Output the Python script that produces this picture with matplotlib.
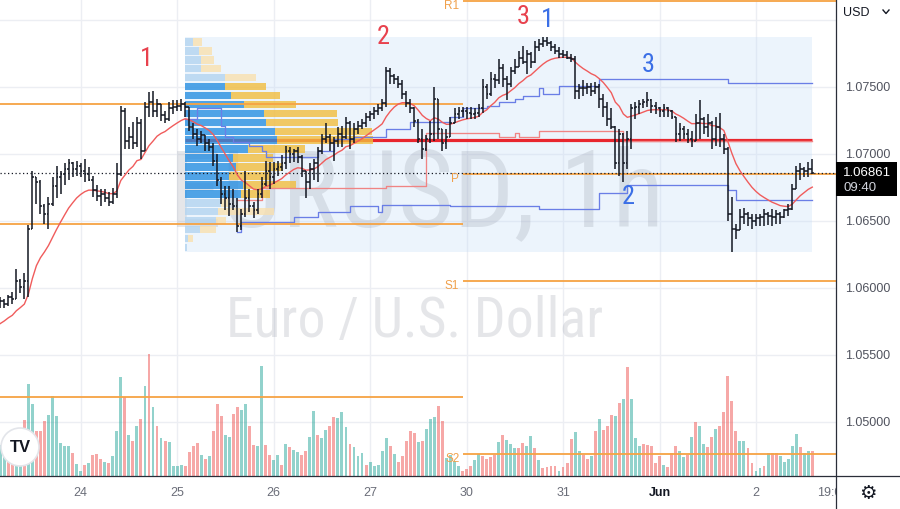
import numpy as np
import matplotlib
matplotlib.use("Agg")
import matplotlib.pyplot as plt
from matplotlib import font_manager as fm, transforms
from matplotlib.patches import Rectangle, Circle
from matplotlib.lines import Line2D

# ---------------- data ----------------
day_labels = ["24", "25", "26", "27", "30", "31", "Jun", "2", "19:00"]
day_label_bars = [20, 44, 68, 92, 116, 140, 164, 188, 207]
price_ticks = [1.050, 1.055, 1.060, 1.065, 1.070, 1.075]
last_price = 1.06861
countdown = "09:40"

open_first = 1.0591
high = [1.0593, 1.0592, 1.0595, 1.0597, 1.0614, 1.0607, 1.0611, 1.0647, 1.0687, 1.0683,
        1.0681, 1.0663, 1.0668, 1.0683, 1.0691, 1.0687, 1.0693, 1.0696, 1.0694, 1.0695,
        1.0693, 1.0696, 1.0690, 1.0684, 1.0677, 1.0674, 1.0674, 1.0672, 1.0675, 1.0693,
        1.0736, 1.0734, 1.0720, 1.0724, 1.0728, 1.0726, 1.0739, 1.0746, 1.0747, 1.0741,
        1.0737, 1.0732, 1.0739, 1.0740, 1.0740, 1.0741, 1.0739, 1.0735, 1.0723, 1.0719,
        1.0717, 1.0714, 1.0711, 1.0708, 1.0700, 1.0683, 1.0676, 1.0676, 1.0674, 1.0667,
        1.0659, 1.0687, 1.0674, 1.0664, 1.0674, 1.0683, 1.0695, 1.0694, 1.0694, 1.0695,
        1.0699, 1.0706, 1.0705, 1.0704, 1.0705, 1.0699, 1.0687, 1.0693, 1.0696, 1.0705,
        1.0715, 1.0723, 1.0715, 1.0713, 1.0720, 1.0721, 1.0728, 1.0725, 1.0723, 1.0725,
        1.0726, 1.0731, 1.0732, 1.0735, 1.0737, 1.0741, 1.0765, 1.0764, 1.0760, 1.0758,
        1.0755, 1.0747, 1.0741, 1.0735, 1.0726, 1.0719, 1.0714, 1.0725, 1.0750, 1.0741,
        1.0719, 1.0719, 1.0728, 1.0734, 1.0735, 1.0735, 1.0735, 1.0735, 1.0734, 1.0737,
        1.0756, 1.0752, 1.0761, 1.0760, 1.0771, 1.0767, 1.0758, 1.0765, 1.0771, 1.0777,
        1.0781, 1.0778, 1.0776, 1.0784, 1.0786, 1.0787, 1.0787, 1.0784, 1.0782, 1.0780,
        1.0778, 1.0777, 1.0775, 1.0773, 1.0752, 1.0755, 1.0753, 1.0753, 1.0754, 1.0752,
        1.0745, 1.0739, 1.0734, 1.0721, 1.0719, 1.0716, 1.0717, 1.0737, 1.0739, 1.0740,
        1.0741, 1.0746, 1.0741, 1.0739, 1.0735, 1.0737, 1.0735, 1.0733, 1.0728, 1.0723,
        1.0721, 1.0719, 1.0717, 1.0730, 1.0740, 1.0728, 1.0730, 1.0725, 1.0728, 1.0731,
        1.0715, 1.0705, 1.0668, 1.0648, 1.0659, 1.0660, 1.0657, 1.0655, 1.0655, 1.0655,
        1.0659, 1.0657, 1.0659, 1.0658, 1.0657, 1.0659, 1.0663, 1.0678, 1.0691, 1.0693,
        1.0690, 1.0694, 1.0696]
low = [1.0585, 1.0585, 1.0587, 1.0588, 1.0592, 1.0596, 1.0592, 1.0593, 1.0644, 1.0663,
       1.0655, 1.0648, 1.0644, 1.0661, 1.0667, 1.0670, 1.0677, 1.0681, 1.0683, 1.0684,
       1.0683, 1.0679, 1.0680, 1.0668, 1.0665, 1.0661, 1.0664, 1.0661, 1.0663, 1.0667,
       1.0684, 1.0704, 1.0704, 1.0704, 1.0705, 1.0696, 1.0702, 1.0728, 1.0728, 1.0728,
       1.0725, 1.0723, 1.0725, 1.0730, 1.0732, 1.0732, 1.0728, 1.0717, 1.0711, 1.0706,
       1.0708, 1.0702, 1.0702, 1.0691, 1.0676, 1.0663, 1.0658, 1.0654, 1.0658, 1.0642,
       1.0643, 1.0653, 1.0657, 1.0652, 1.0655, 1.0667, 1.0676, 1.0674, 1.0678, 1.0684,
       1.0687, 1.0689, 1.0693, 1.0694, 1.0693, 1.0683, 1.0667, 1.0674, 1.0681, 1.0679,
       1.0700, 1.0708, 1.0702, 1.0695, 1.0705, 1.0705, 1.0711, 1.0704, 1.0708, 1.0715,
       1.0719, 1.0720, 1.0725, 1.0726, 1.0729, 1.0732, 1.0735, 1.0752, 1.0752, 1.0749,
       1.0741, 1.0735, 1.0731, 1.0720, 1.0708, 1.0696, 1.0702, 1.0708, 1.0710, 1.0711,
       1.0702, 1.0704, 1.0713, 1.0723, 1.0726, 1.0728, 1.0726, 1.0726, 1.0726, 1.0728,
       1.0731, 1.0741, 1.0743, 1.0749, 1.0752, 1.0750, 1.0740, 1.0750, 1.0760, 1.0765,
       1.0767, 1.0760, 1.0764, 1.0768, 1.0777, 1.0780, 1.0781, 1.0777, 1.0775, 1.0772,
       1.0772, 1.0771, 1.0769, 1.0741, 1.0741, 1.0743, 1.0745, 1.0743, 1.0745, 1.0734,
       1.0728, 1.0721, 1.0719, 1.0689, 1.0684, 1.0679, 1.0689, 1.0704, 1.0726, 1.0730,
       1.0734, 1.0735, 1.0731, 1.0730, 1.0728, 1.0728, 1.0728, 1.0726, 1.0709, 1.0710,
       1.0711, 1.0708, 1.0705, 1.0710, 1.0711, 1.0715, 1.0713, 1.0704, 1.0706, 1.0705,
       1.0700, 1.0650, 1.0627, 1.0637, 1.0643, 1.0648, 1.0646, 1.0644, 1.0646, 1.0646,
       1.0646, 1.0647, 1.0646, 1.0648, 1.0648, 1.0652, 1.0654, 1.0658, 1.0674, 1.0681,
       1.0683, 1.0683, 1.0685]
close = [1.0590, 1.0588, 1.0593, 1.0592, 1.0605, 1.0601, 1.0605, 1.0644, 1.0683, 1.0679,
         1.0661, 1.0655, 1.0663, 1.0676, 1.0683, 1.0685, 1.0689, 1.0693, 1.0689, 1.0691,
         1.0687, 1.0685, 1.0681, 1.0673, 1.0669, 1.0670, 1.0667, 1.0664, 1.0670, 1.0685,
         1.0732, 1.0710, 1.0713, 1.0708, 1.0723, 1.0702, 1.0735, 1.0739, 1.0732, 1.0737,
         1.0729, 1.0726, 1.0734, 1.0735, 1.0736, 1.0737, 1.0735, 1.0720, 1.0715, 1.0711,
         1.0714, 1.0708, 1.0705, 1.0695, 1.0681, 1.0670, 1.0667, 1.0663, 1.0661, 1.0646,
         1.0655, 1.0667, 1.0661, 1.0658, 1.0670, 1.0678, 1.0687, 1.0683, 1.0689, 1.0690,
         1.0693, 1.0702, 1.0700, 1.0702, 1.0698, 1.0687, 1.0679, 1.0689, 1.0693, 1.0702,
         1.0711, 1.0713, 1.0708, 1.0710, 1.0715, 1.0713, 1.0723, 1.0711, 1.0719, 1.0721,
         1.0723, 1.0728, 1.0730, 1.0732, 1.0734, 1.0738, 1.0762, 1.0758, 1.0756, 1.0752,
         1.0745, 1.0738, 1.0734, 1.0725, 1.0711, 1.0704, 1.0711, 1.0715, 1.0741, 1.0719,
         1.0708, 1.0713, 1.0723, 1.0730, 1.0732, 1.0732, 1.0731, 1.0730, 1.0731, 1.0734,
         1.0750, 1.0745, 1.0756, 1.0755, 1.0764, 1.0756, 1.0752, 1.0762, 1.0765, 1.0772,
         1.0769, 1.0775, 1.0769, 1.0780, 1.0782, 1.0784, 1.0783, 1.0780, 1.0777, 1.0775,
         1.0774, 1.0772, 1.0771, 1.0747, 1.0749, 1.0749, 1.0750, 1.0747, 1.0750, 1.0741,
         1.0735, 1.0726, 1.0720, 1.0693, 1.0715, 1.0693, 1.0711, 1.0734, 1.0735, 1.0737,
         1.0739, 1.0740, 1.0736, 1.0734, 1.0732, 1.0734, 1.0732, 1.0728, 1.0715, 1.0719,
         1.0715, 1.0711, 1.0710, 1.0723, 1.0726, 1.0720, 1.0723, 1.0711, 1.0720, 1.0711,
         1.0704, 1.0655, 1.0644, 1.0643, 1.0653, 1.0655, 1.0652, 1.0650, 1.0652, 1.0653,
         1.0655, 1.0654, 1.0653, 1.0655, 1.0653, 1.0658, 1.0659, 1.0674, 1.0687, 1.0689,
         1.0687, 1.0689, 1.06861]

volume = [31, 21, 23, 25, 28, 30,
          56, 92, 72, 45, 45, 55, 61, 80, 60, 33, 30, 30, 23, 12, 5, 11, 13, 21, 22, 17,
          14, 13, 20, 45, 99, 79, 41, 35, 50, 57, 90, 122, 69, 50, 38, 35, 34, 10, 10, 11,
          10, 24, 30, 33, 21, 17, 20, 45, 72, 60, 41, 39, 62, 69, 66, 72, 50, 31, 30, 110,
          31, 21, 16, 21, 11, 32, 29, 26, 24, 21, 25, 39, 65, 41, 38, 46, 50, 59, 58, 64,
          49, 32, 29, 20, 23, 11, 14, 10, 11, 25, 38, 30, 22, 14, 20, 35, 45, 43, 34, 35,
          47, 57, 59, 70, 55,
          18,
          21, 15, 10, 5, 7, 10, 16, 22, 20, 17, 19, 21, 34, 41, 36, 32, 28, 28, 33, 30,
          40, 28, 16, 8, 9, 10, 10, 5, 9, 13, 37, 44, 25, 21, 17, 20, 45, 57, 46, 50,
          61, 60, 73, 77, 109, 77, 38, 30, 32, 31, 30, 13, 20, 11, 9, 23, 30, 25, 19, 21,
          39, 54, 50, 32, 29, 39, 47, 50, 64, 100, 75, 45, 35, 35, 28, 13, 5, 8, 10, 23,
          23, 23, 20, 14, 17, 30, 42, 29, 23, 25, 25]
volume_dir = ("uudduu"
              "duuddduuuu" "uuduududdd" "uduuududud" "udududuuuu" "ddddududdd"
              "uudduudduu" "dduududuud" "duuduudduu" "uduuuduuuu" "ududddddud" "uuudd"
              "u"
              "uuuddduudd" "dduduuuddu" "ududdddudd" "duuddududd" "dududuuudd"
              "ddduddduud" "uduudduddd" "dduudduudu" "dduuuuuduud")

ema_len = 14
ema_seed = 1.0571

vp_start_bar = 46
vp_end_bar = 202
vp_up = [8, 14, 16, 16, 39, 39, 45, 58, 78, 80, 89, 91, 62, 47, 50, 43, 57, 55, 35, 32, 30, 15, 3, 2]
vp_down = [9, 13, 13, 19, 31, 41, 49, 52, 72, 71, 96, 95, 56, 40, 47, 42, 53, 29, 7, 56, 10, 15, 5, 0]
vp_value_area = (5, 17)       # top-first row indices inside value area
vp_width_frac = 0.30

vah_bars = [46, 49, 55, 56, 58, 62, 65, 66, 79, 83, 88, 96, 102, 112, 115, 121, 124, 128, 130, 134, 135, 139, 149, 181]
vah_price = [1.0726, 1.0734, 1.0721, 1.0713, 1.0709, 1.0706, 1.0702, 1.0698, 1.0702, 1.0711, 1.0713, 1.0719,
             1.0724, 1.0728, 1.0734, 1.0736, 1.0739, 1.0741, 1.0743, 1.0749, 1.0745, 1.0751, 1.0756, 1.0753]
val_bars = [59, 60, 73, 79, 87, 94, 95, 112, 134, 149, 156, 181, 183]
val_price = [1.0642, 1.0649, 1.0653, 1.0657, 1.0661, 1.0657, 1.0662, 1.0661, 1.0659, 1.0671, 1.0677, 1.0673, 1.0666]
dpoc_bars = [59, 65, 96, 106, 124, 128, 129, 134, 155]
dpoc_price = [1.0666, 1.0675, 1.0676, 1.0716, 1.0713, 1.0716, 1.0713, 1.0717, 1.0710]

pivot_start_bar = 115
prev_levels = [1.0737, 1.0648, 1.0519]
pivot_names = ["R1", "P", "S1", "S2"]
pivot_levels = [1.0814, 1.0685, 1.0605, 1.0476]

wave_labels = ["1", "2", "3", "1", "3", "2"]
wave_bars = [36.3, 95.2, 130.0, 136.0, 161.1, 156.2]
wave_prices = [1.0772, 1.0788, 1.0803, 1.0801, 1.0767, 1.0669]
wave_colors = ["#e8414d", "#e8414d", "#e8414d", "#3b6fe6", "#3b6fe6", "#3b6fe6"]

# ---------------- fonts ----------------
avail = {f.name for f in fm.fontManager.ttflist}
def pick(*names):
    for n in names:
        if n in avail:
            return n
    return "DejaVu Sans"
NARROW = pick("Liberation Sans Narrow", "Roboto Condensed", "Roboto", "Liberation Sans")
SANS = pick("Liberation Sans", "Roboto", "DejaVu Sans")

# ---------------- figure ----------------
W, H = 900, 510
fig = plt.figure(figsize=(W / 100, H / 100), dpi=100)
fig.patch.set_facecolor("white")
axw, axh, axb = 836 / W, 477 / H, 33 / H
ax_vol = fig.add_axes([0, axb, axw, axh], zorder=0)
ax = fig.add_axes([0, axb, axw, axh], zorder=1)
ax.set_facecolor("none")
ax_t = fig.add_axes([0, 0, axw, axb], zorder=1)
for a in (ax, ax_vol, ax_t):
    a.set_xticks([]); a.set_yticks([])
    for s in a.spines.values():
        s.set_visible(False)

n = len(close)
idx = np.arange(n)
xlim = (-0.06, 207.9)
ylim = (1.04598, 1.08157)
for a in (ax, ax_vol, ax_t):
    a.set_xlim(*xlim)
ax.set_ylim(*ylim)
ax_t.set_ylim(0, 1)

# volume pane
vol = np.array(volume, float)
ax_vol.set_ylim(0, vol.max() / 0.256)
ax_vol.set_facecolor("white")
grid_c = "#eceef3"
for b in day_label_bars[:-1]:
    ax_vol.axvline(b, color=grid_c, lw=1.0, zorder=0)
gtrans = transforms.blended_transform_factory(ax_vol.transAxes, ax.transData)
for p in [1.045, 1.050, 1.055, 1.060, 1.065, 1.070, 1.075, 1.080]:
    ax_vol.plot([0, 1], [p, p], color=grid_c, lw=1.0, transform=gtrans, zorder=0)
vcols = [(38/255, 166/255, 154/255, 0.5) if d == "u" else (239/255, 83/255, 80/255, 0.5) for d in volume_dir]
ax_vol.bar(idx, vol, width=0.72, color=vcols, zorder=1, linewidth=0)

# watermark
wm_c = (0.55, 0.57, 0.62, 0.22)
wm1 = ax.text(103.5, 1.0669, "EURUSD, 1h", fontsize=80, family=NARROW, color=wm_c,
              ha="center", va="center", zorder=0.7)
wm2 = ax.text(103.0, 1.0576, "Euro / U.S. Dollar", fontsize=40, family=NARROW, color=wm_c,
              ha="center", va="center", zorder=0.7)
fig.canvas.draw()
r = fig.canvas.get_renderer()
for t, target in ((wm1, 495), (wm2, 377)):
    w = t.get_window_extent(r).width
    t.set_fontsize(t.get_fontsize() * target / w)

# volume profile
hi_vp = max(high[vp_start_bar:])
lo_vp = min(low[vp_start_bar:])
nrows = len(vp_up)
edges = np.linspace(hi_vp, lo_vp, nrows + 1)   # top first
row_h = (hi_vp - lo_vp) / nrows
centers = (edges[:-1] + edges[1:]) / 2
up = np.array(vp_up, float); dn = np.array(vp_down, float)
tot = up + dn
span = vp_end_bar - vp_start_bar
wscale = vp_width_frac * span / tot.max()
ax.add_patch(Rectangle((vp_start_bar, lo_vp), span, hi_vp - lo_vp,
                       facecolor=(0.78, 0.87, 0.97), alpha=0.33, lw=0, zorder=0.6))
poc = centers[int(np.argmax(tot))]
ax.hlines(poc, vp_start_bar, vp_end_bar, color="#e8262e", lw=2.3, zorder=2.5)
for k in range(nrows):
    in_va = vp_value_area[0] <= k <= vp_value_area[1]
    cu = "#288fe1" if in_va else "#b3d4f0"
    cd = "#f2bd3e" if in_va else "#f9e0af"
    ax.barh(centers[k], up[k] * wscale, height=row_h * 0.84, left=vp_start_bar,
            color=cu, alpha=0.8, lw=0, zorder=3)
    ax.barh(centers[k], dn[k] * wscale, height=row_h * 0.84, left=vp_start_bar + up[k] * wscale,
            color=cd, alpha=0.8, lw=0, zorder=3)

# developing value area / POC
def steps(bars, prices, color, lw):
    xs = list(bars) + [vp_end_bar]
    ys = list(prices) + [prices[-1]]
    ax.step(xs, ys, where="post", color=color, lw=lw, zorder=4)
steps(vah_bars, vah_price, "#6a7ee6", 0.95)
steps(val_bars, val_price, "#6a7ee6", 0.95)
steps(dpoc_bars, dpoc_price, "#f08484", 0.95)

# pivots
orange = "#f6a343"
for p in prev_levels:
    ax.hlines(p, xlim[0], pivot_start_bar, color=orange, lw=1.3, zorder=4)
for name, p in zip(pivot_names, pivot_levels):
    ax.hlines(p, pivot_start_bar, xlim[1], color=orange, lw=1.3, zorder=4)
    ax.annotate(name, (pivot_start_bar - 0.8, p), xytext=(0, -2.5), textcoords="offset points",
                ha="right", va="center", fontsize=8.5, family=SANS, color="#f0a04b", zorder=7)

# price line
ax.hlines(last_price, xlim[0], xlim[1], color="#131722", lw=0.9, linestyles=(0, (1, 2)), zorder=4.5)

# EMA
a_ = 2 / (ema_len + 1)
ema = np.empty(n); e = ema_seed
for k, c in enumerate(close):
    e = e + a_ * (c - e); ema[k] = e
ax.plot(idx, ema, color="#f05c5c", lw=1.0, zorder=5)

# OHLC bars
opens = np.r_[open_first, close[:-1]]
bar_c = "#131722"
ax.vlines(idx, low, high, color=bar_c, lw=1.1, zorder=6)
ax.hlines(opens, idx - 0.45, idx, color=bar_c, lw=1.1, zorder=6)
ax.hlines(close, idx, idx + 0.45, color=bar_c, lw=1.1, zorder=6)

# wave labels
for lab, b, p, c in zip(wave_labels, wave_bars, wave_prices, wave_colors):
    ax.text(b, p, lab, fontsize=19, family=NARROW, color=c, ha="center", va="center", zorder=7)

# time axis labels
for lab, b in zip(day_labels, day_label_bars):
    bold = lab == "Jun"
    ax_t.text(b, 0.5, lab, fontsize=9, family=SANS, ha="center", va="center",
              color="#131722" if bold else "#6a6d78", fontweight="bold" if bold else "normal",
              clip_on=True)

# right price axis
ytr = transforms.blended_transform_factory(fig.transFigure, ax.transData)
for p in price_ticks:
    fig.text(845 / W, p, f"{p:.5f}", transform=ytr, fontsize=9, family=SANS,
             color="#50535e", ha="left", va="center")
fig.text(843 / W, 1 - 13 / H, "USD", fontsize=9, family=SANS, color="#131722", ha="left", va="center")
fig.add_artist(Line2D([883 / W, 886 / W, 889 / W], [1 - 11 / H, 1 - 14.5 / H, 1 - 11 / H],
                      color="#131722", lw=1.0, transform=fig.transFigure))
fig.add_artist(Rectangle((836 / W, 1 - 197 / H), 61 / W, 34 / H, transform=fig.transFigure,
                         facecolor="black", lw=0, zorder=5))
fig.text(843 / W, 1 - 173 / H, f"{last_price:.5f}", fontsize=9.5, family=SANS, color="white",
         ha="left", va="center", zorder=6)
fig.text(843 / W, 1 - 188 / H, countdown, fontsize=9.5, family=SANS, color="#d1d4dc",
         ha="left", va="center", zorder=6)
fig.text(868 / W, 1 - 494 / H, "\u2699", fontsize=14, family="DejaVu Sans", color="#131722",
         ha="center", va="center")

# separators
fig.add_artist(Line2D([836 / W, 836 / W], [0, 1], color="#2a2e39", lw=0.9, transform=fig.transFigure))
fig.add_artist(Line2D([0, 1], [axb, axb], color="#2a2e39", lw=0.9, transform=fig.transFigure))

# logo
fig.add_artist(Circle((0.20, 0.62), 0.19, transform=fig.dpi_scale_trans, facecolor="white",
                      edgecolor="#e3e5ea", lw=1.2, zorder=10))
fig.text(0.20, 0.62, "TV", transform=fig.dpi_scale_trans, fontsize=12, fontweight="heavy",
         family=SANS, color="#131722", ha="center", va="center", zorder=11)

fig.savefig("out.png", dpi=100)
